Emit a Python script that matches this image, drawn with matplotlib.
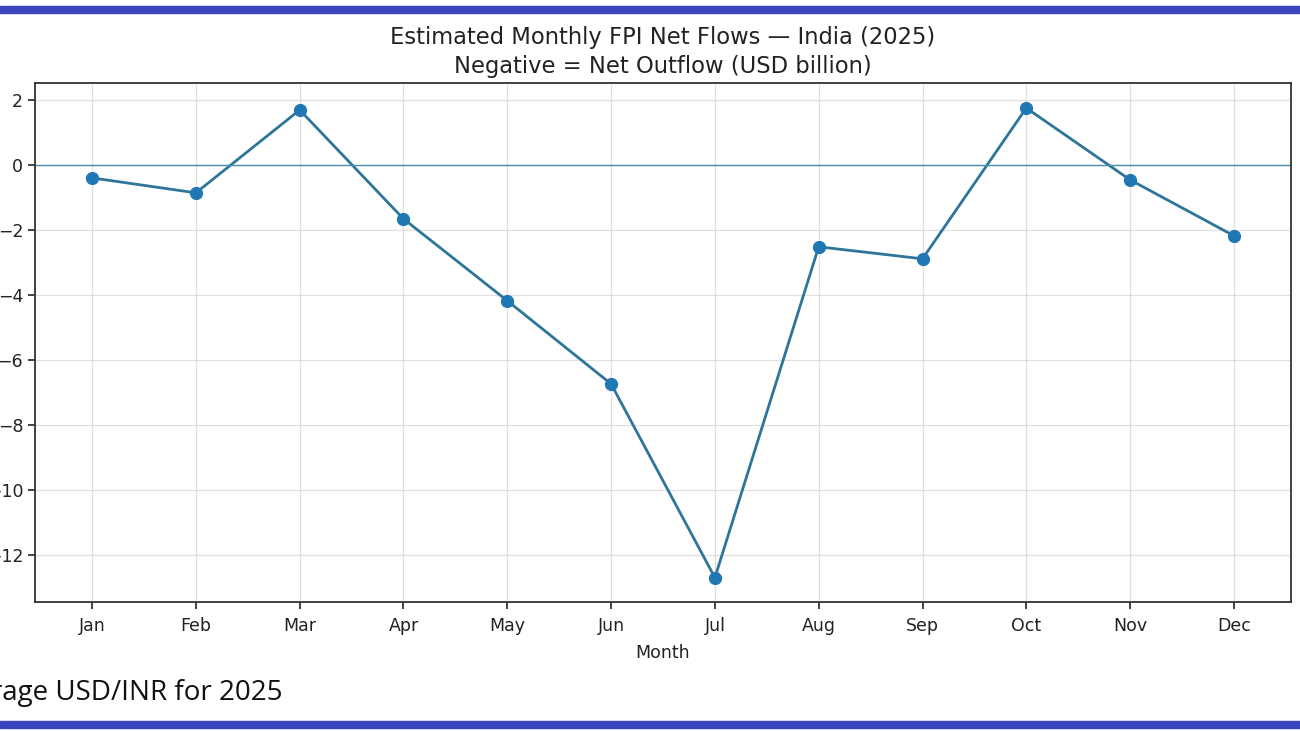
import matplotlib.pyplot as plt
from matplotlib.patches import Rectangle

# estimated monthly FPI net flows, USD billion
months = ['Jan', 'Feb', 'Mar', 'Apr', 'May', 'Jun',
          'Jul', 'Aug', 'Sep', 'Oct', 'Nov', 'Dec']
net_flows = [-0.40, -0.86, 1.69, -1.66, -4.18, -6.74,
             -12.70, -2.52, -2.89, 1.75, -0.46, -2.18]
y_ticks = [2, 0, -2, -4, -6, -8, -10, -12]

W, H = 1300, 731
fig = plt.figure(figsize=(W / 100, H / 100), dpi=100)
fig.patch.set_facecolor('white')

# axes box placed in pixels (left, top, right, bottom)
l, t, r, b = 35, 83, 1291, 602
ax = fig.add_axes([l / W, 1 - b / H, (r - l) / W, (b - t) / H])

x = list(range(len(months)))
ax.plot(x, net_flows, color='#2d7699', linewidth=2, marker='o',
        markersize=8.5, markerfacecolor='#1f77b4', markeredgecolor='#1f77b4')
ax.axhline(0, color='#4a8fa8', linewidth=1)

ax.set_xticks(x)
ax.set_xticklabels(months)
ax.set_yticks(y_ticks)
ax.set_yticklabels([str(v).replace('-', '\u2212') for v in y_ticks])
ax.set_ylim(-13.45, 2.52)
ax.tick_params(labelsize=12.5, length=5, width=1.2, colors='#222222')
ax.tick_params(axis='x', pad=6)
ax.grid(True, color='#cccccc', alpha=0.6, linewidth=0.9)
for s in ax.spines.values():
    s.set_color('#333333')
    s.set_linewidth(1.3)

ax.set_xlabel('Month', fontsize=12.5, labelpad=6, color='#222222')
ax.set_title('Estimated Monthly FPI Net Flows \u2014 India (2025)\n'
             'Negative = Net Outflow (USD billion)',
             fontsize=16.3, pad=7, color='#222222', linespacing=1.35)

# page pieces around the screenshot
fig.add_artist(Rectangle((0, 1 - 13 / H), 1, 7 / H, transform=fig.transFigure,
                         color='#3b44bd', zorder=10))
fig.add_artist(Rectangle((0, 1 - 728 / H), 1, 7 / H, transform=fig.transFigure,
                         color='#3b44bd', zorder=10))
fig.text(-56 / W, 1 - 693 / H, 'Average USD/INR for 2025', fontsize=20,
         family='Open Sans', va='center', ha='left', color='#111111')

fig.savefig('out.png', dpi=100)
